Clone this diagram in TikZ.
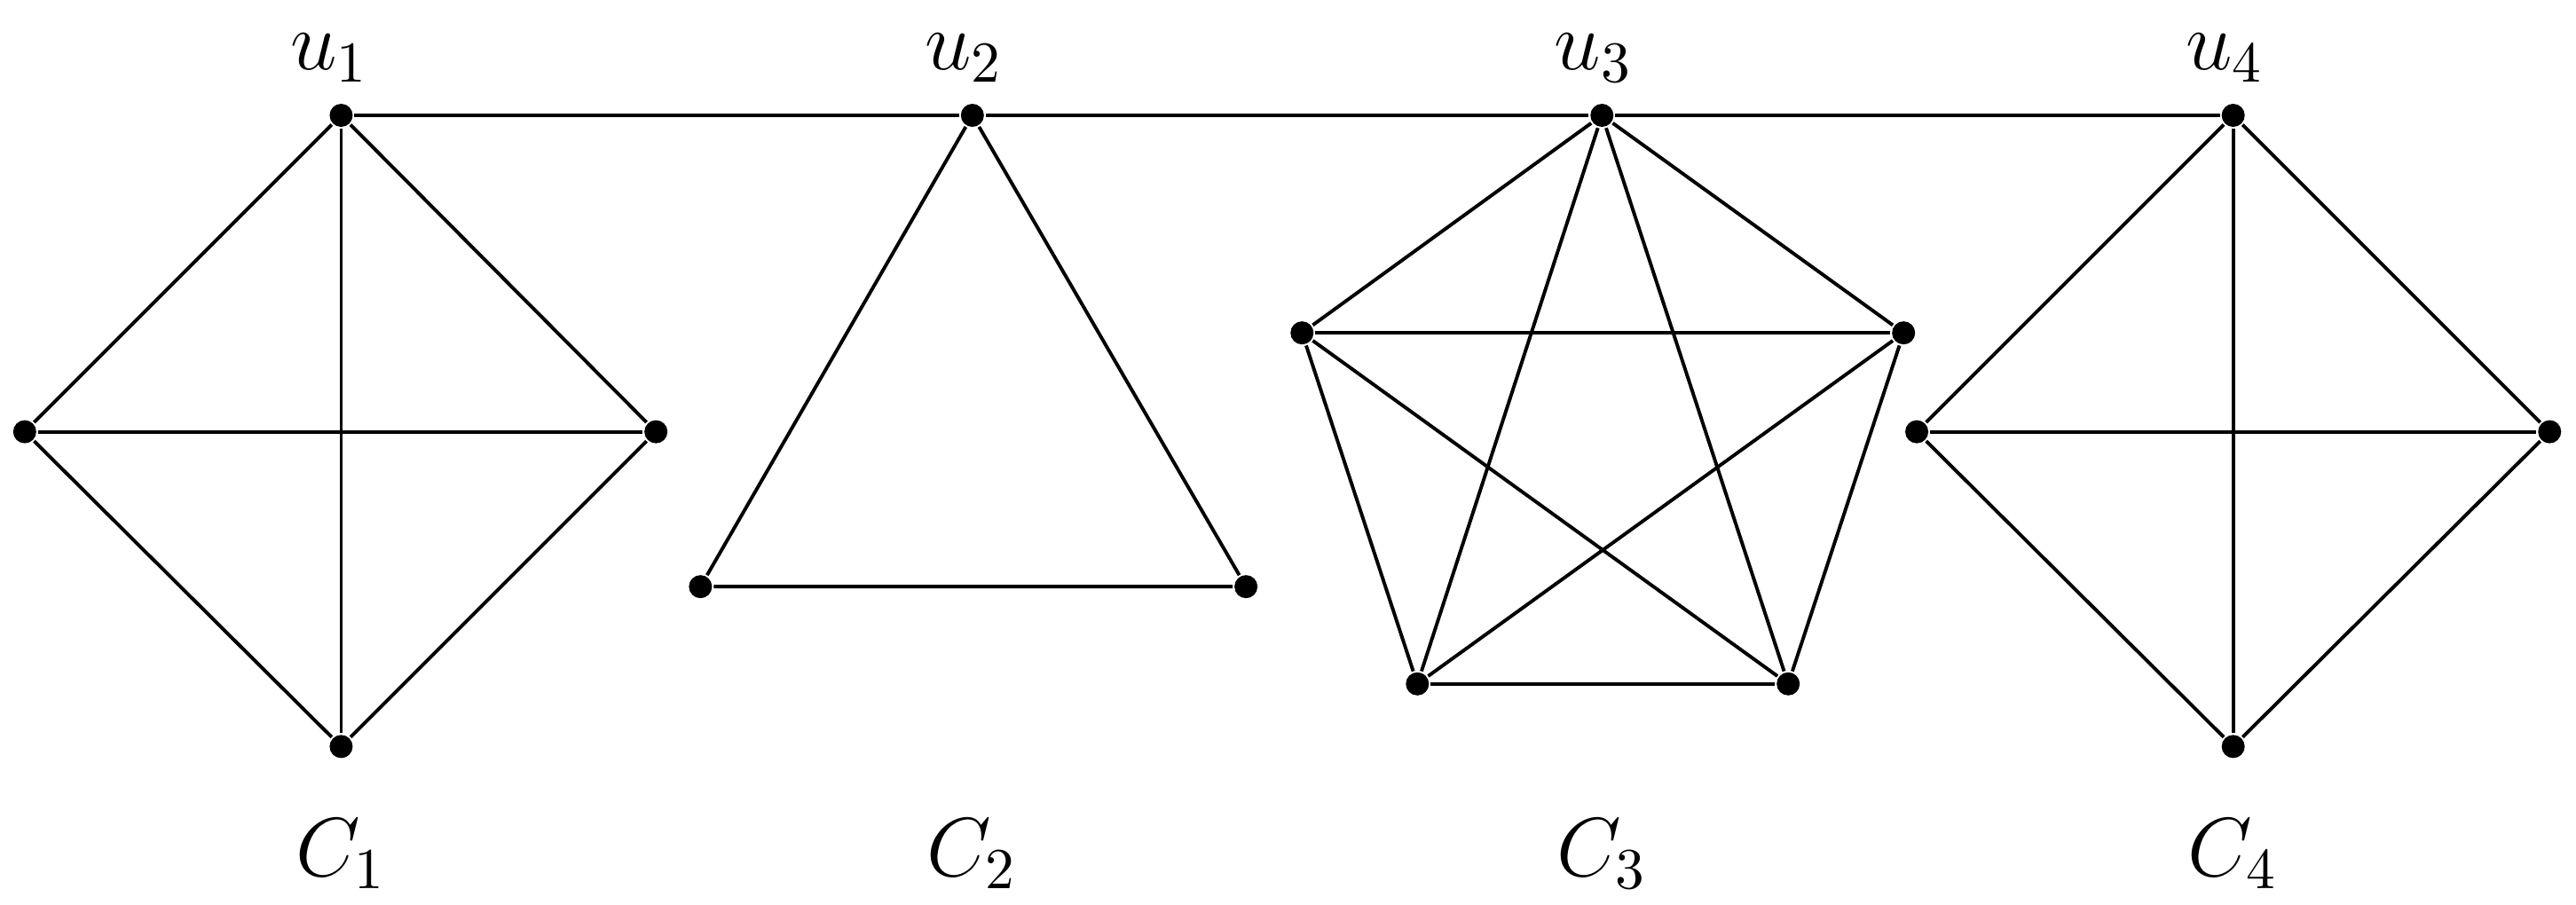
\documentclass[tikz,border=0pt]{standalone}
\begin{document}
\begin{tikzpicture}[x=0.01cm,y=-0.01cm,
  v/.style={circle,fill=black,inner sep=0pt,minimum size=0.14cm},
  lab/.style={font=\Large},
  every path/.style={line width=0.6pt}]
\useasboundingbox (0,0) rectangle (1563,549);
% C1
\node[v] (a1) at (207,70) {}; \node[v] (a2) at (15,262) {};
\node[v] (a3) at (398,262) {}; \node[v] (a4) at (207,453) {};
% C2
\node[v] (b1) at (590,70) {}; \node[v] (b2) at (425,356) {};
\node[v] (b3) at (756,356) {};
% C3
\node[v] (c1) at (972,70) {}; \node[v] (c2) at (790,202) {};
\node[v] (c3) at (1155,202) {}; \node[v] (c4) at (860,415) {};
\node[v] (c5) at (1085,415) {};
% C4
\node[v] (d1) at (1355,70) {}; \node[v] (d2) at (1163,262) {};
\node[v] (d3) at (1547,262) {}; \node[v] (d4) at (1355,453) {};
\foreach \i/\j in {1/2,1/3,1/4,2/3,2/4,3/4} {
  \draw (a\i) -- (a\j); \draw (d\i) -- (d\j); }
\draw (b1) -- (b2) -- (b3) -- (b1);
\foreach \i/\j in {1/2,1/3,1/4,1/5,2/3,2/4,2/5,3/4,3/5,4/5} \draw (c\i) -- (c\j);
\draw (a1) -- (b1) -- (c1) -- (d1);
\node[lab] (l1) at (200,35) {$u_1$}; \node[lab] (l2) at (585,35) {$u_2$};
\node[lab] (l3) at (967,35) {$u_3$}; \node[lab] (l4) at (1350,35) {$u_4$};
\node[lab] (k1) at (207,518) {$C_1$}; \node[lab] (k2) at (590,518) {$C_2$};
\node[lab] (k3) at (972,518) {$C_3$}; \node[lab] (k4) at (1355,518) {$C_4$};
\end{tikzpicture}
\end{document}
